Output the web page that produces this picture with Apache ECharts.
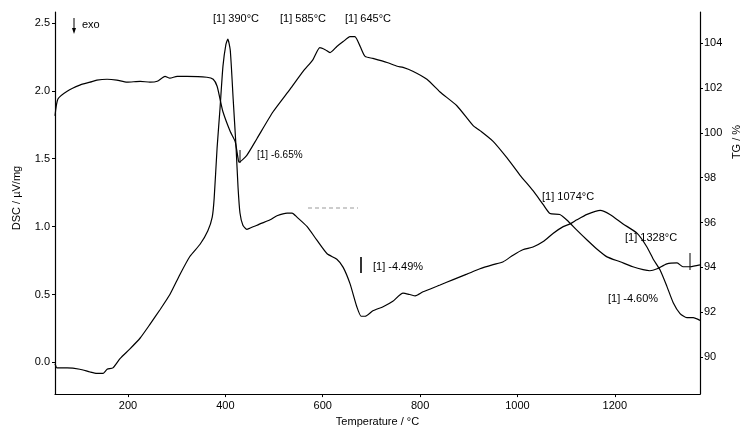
<!DOCTYPE html>
<html>
<head>
<meta charset="utf-8">
<script src="https://cdn.jsdelivr.net/npm/echarts@6/dist/echarts.min.js"></script>
<style>
html,body{margin:0;padding:0;background:#fff;}
#chart{width:745px;height:432px;}
</style>
</head>
<body>
<div id="chart"></div>
<script>
// TG curve (right axis)
const tgTemperature = [50,56,75,101,122,136,157,177,198,225,245,260,276,286,301,321,362,375,383,389,395,410,420,426,428,444,465,498,533,560,580,594,605,615,629,642,656,666,677,687,703,732,753,765,785,814,841,876,909,923,950,979,1005,1032,1053,1067,1087,1102,1122,1143,1163,1184,1211,1237,1258,1272,1287,1307,1328,1340,1355,1375];
const tgValues = [100.76,101.51,101.86,102.13,102.26,102.35,102.39,102.35,102.26,102.30,102.26,102.30,102.52,102.44,102.52,102.52,102.48,102.39,102.08,101.51,100.94,100.06,99.62,98.87,98.69,99.00,99.75,100.94,101.95,102.75,103.27,103.80,103.71,103.58,103.85,104.07,104.29,104.29,103.85,103.41,103.32,103.14,102.97,102.92,102.75,102.39,101.82,101.20,100.32,100.10,99.62,98.87,98.12,97.42,96.80,96.40,96.36,96.10,95.66,95.22,94.82,94.47,94.25,94.03,93.90,93.85,93.94,94.16,94.20,94.03,94.03,94.11];

// DSC curve (left axis)
const dscTemperature = [50,54,60,75,101,122,136,149,157,169,184,204,225,245,266,286,307,327,348,364,373,377,383,389,395,401,405,410,416,422,426,430,436,444,451,465,471,492,506,527,537,547,568,588,609,629,642,656,670,679,687,703,724,744,765,779,790,806,841,868,896,923,950,970,991,1011,1032,1053,1073,1094,1108,1122,1143,1170,1190,1217,1246,1266,1279,1293,1307,1320,1334,1348,1361,1375];
const dscValues = [-0.01,-0.04,-0.04,-0.04,-0.05,-0.07,-0.08,-0.08,-0.05,-0.04,0.03,0.10,0.18,0.28,0.39,0.50,0.65,0.78,0.87,0.97,1.07,1.21,1.58,1.87,2.18,2.34,2.38,2.30,1.94,1.58,1.29,1.10,1.01,0.98,0.99,1.01,1.02,1.05,1.08,1.10,1.10,1.07,1.00,0.90,0.80,0.76,0.70,0.58,0.41,0.34,0.34,0.38,0.41,0.45,0.51,0.50,0.49,0.52,0.57,0.61,0.65,0.69,0.72,0.74,0.79,0.83,0.85,0.89,0.95,1.00,1.02,1.05,1.09,1.12,1.09,1.02,0.95,0.85,0.76,0.68,0.56,0.44,0.36,0.33,0.33,0.31];

// tick labels
const temperatureTicks = [200,400,600,800,1000,1200];
const dscTicks = [0,0.5,1.0,1.5,2.0,2.5];
const tgTicks = [90,92,94,96,98,100,102,104];

// annotation texts
const annotations = [
  {text:'[1] 390°C', x:213, y:19},
  {text:'[1] 585°C', x:280, y:19},
  {text:'[1] 645°C', x:345, y:19},
  {text:'[1] -6.65%', x:257, y:155, size:10},
  {text:'[1] -4.49%', x:373, y:267},
  {text:'[1] 1074°C', x:542, y:197},
  {text:'[1] 1328°C', x:625, y:238},
  {text:'[1] -4.60%', x:608, y:299}
];

const FONT = '"Liberation Sans", Arial, sans-serif';
const chart = echarts.init(document.getElementById('chart'), null, {renderer:'canvas'});

const tgData = tgTemperature.map((t,i)=>[t,tgValues[i]]);
const dscData = dscTemperature.map((t,i)=>[t,dscValues[i]]);

const graphics = [];
annotations.forEach(a=>{
  graphics.push({type:'text', x:a.x, y:a.y, silent:true, style:{text:a.text, fill:'#000', font:(a.size||11)+'px '+FONT, align:'left', verticalAlign:'middle'}});
});
// exo arrow
graphics.push({type:'line', silent:true, shape:{x1:74,y1:18,x2:74,y2:31}, style:{stroke:'#000', lineWidth:1}});
graphics.push({type:'polygon', silent:true, shape:{points:[[72,28],[76,28],[74,34]]}, style:{fill:'#000'}});
graphics.push({type:'text', x:82, y:25, silent:true, style:{text:'exo', fill:'#000', font:'11px '+FONT, align:'left', verticalAlign:'middle'}});
// step markers
graphics.push({type:'line', silent:true, shape:{x1:240,y1:150,x2:240,y2:163}, style:{stroke:'#000', lineWidth:1}});
graphics.push({type:'line', silent:true, shape:{x1:361,y1:257,x2:361,y2:273}, style:{stroke:'#000', lineWidth:1.6}});
graphics.push({type:'line', silent:true, shape:{x1:690,y1:253,x2:690,y2:270}, style:{stroke:'#000', lineWidth:1}});
graphics.push({type:'line', silent:true, shape:{x1:308,y1:208,x2:358,y2:208}, style:{stroke:'#999', lineWidth:1, lineDash:[4,3]}});
// axis names
graphics.push({type:'text', x:17, y:198, rotation:Math.PI/2, silent:true, style:{text:'DSC / µV/mg', fill:'#000', font:'11px '+FONT, align:'center', verticalAlign:'middle'}});
graphics.push({type:'text', x:737, y:142, rotation:Math.PI/2, silent:true, style:{text:'TG / %', fill:'#000', font:'11px '+FONT, align:'center', verticalAlign:'middle'}});

const lineStyle = {color:'#000', width:1.2};

chart.setOption({
  animation:false,
  backgroundColor:'#fff',
  grid:{left:55, right:45, top:12, bottom:33, containLabel:false},
  xAxis:{
    type:'value', min:50, max:1375,
    name:'Temperature / °C', nameLocation:'middle', nameGap:18,
    nameTextStyle:{color:'#000', fontFamily:FONT, fontSize:11},
    axisLine:{show:true, onZero:false, lineStyle:lineStyle},
    splitLine:{show:false},
    axisTick:{show:true, length:3, lineStyle:{color:'#000'}, customValues:temperatureTicks},
    axisLabel:{color:'#000', fontFamily:FONT, fontSize:11, margin:6, customValues:temperatureTicks, formatter:v=>String(v)}
  },
  yAxis:[
    {
      type:'value', min:-0.233, max:2.58, position:'left',
      axisLine:{show:true, onZero:false, lineStyle:lineStyle},
      splitLine:{show:false},
      axisTick:{show:true, length:3, lineStyle:{color:'#000'}, customValues:dscTicks},
      axisLabel:{color:'#000', fontFamily:FONT, fontSize:11, margin:5, customValues:dscTicks, formatter:v=>Number(v).toFixed(1)}
    },
    {
      type:'value', min:88.35, max:105.39, position:'right',
      axisLine:{show:true, onZero:false, lineStyle:lineStyle},
      splitLine:{show:false},
      axisTick:{show:true, length:3, lineStyle:{color:'#000'}, customValues:tgTicks},
      axisLabel:{color:'#000', fontFamily:FONT, fontSize:11, margin:4, customValues:tgTicks, formatter:v=>String(v)}
    }
  ],
  series:[
    {type:'line', name:'TG', yAxisIndex:1, data:tgData, showSymbol:false, symbol:'none', smooth:0.2, lineStyle:{color:'#000', width:1.2}},
    {type:'line', name:'DSC', yAxisIndex:0, data:dscData, showSymbol:false, symbol:'none', smooth:0.2, lineStyle:{color:'#000', width:1.2}}
  ],
  graphic:graphics
});
</script>
</body>
</html>
